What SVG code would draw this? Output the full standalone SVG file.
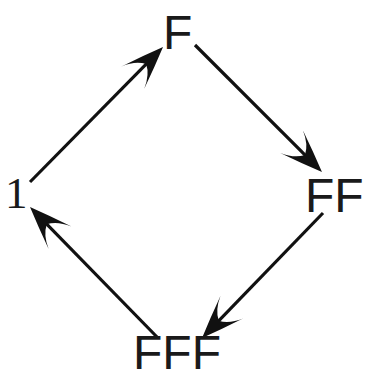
<svg xmlns="http://www.w3.org/2000/svg" width="365" height="374" viewBox="0 0 365 374">
<defs>
<style>
.lbl{font-family:"Liberation Sans",Arial,sans-serif;font-size:48px;fill:#1a1a1a}
.num{font-family:"Liberation Serif","Times New Roman",serif;font-size:45px;fill:#1a1a1a}
.edge{stroke:#111;stroke-width:3.2;fill:none;marker-end:url(#head)}
</style>
<marker id="head" markerUnits="userSpaceOnUse" viewBox="-46 -18 48 36" markerWidth="48" markerHeight="36" refX="-10" refY="0" orient="auto">
<path d="M0,0 Q-20,8 -43,16 Q-29,10 -24,0 Q-29,-10 -43,-16 Q-20,-8 0,0 Z" fill="#111"/>
</marker>
</defs>
<rect width="365" height="374" fill="#fff"/>
<g id="connectors">
<line class="edge" x1="30" y1="182" x2="156" y2="54.1"/>
<line class="edge" x1="195" y1="45" x2="314.9" y2="164.9"/>
<line class="edge" x1="323" y1="213" x2="209" y2="330.8"/>
<line class="edge" x1="157" y1="337" x2="37" y2="214.2"/>
</g>
<g id="node-F"><text class="lbl" x="163" y="49">F</text></g>
<g id="node-FF"><text class="lbl" x="305" y="212">FF</text></g>
<g id="node-FFF"><text class="lbl" x="133" y="369">FFF</text></g>
<g id="node-1"><text class="num" x="5" y="208">1</text></g>
</svg>
